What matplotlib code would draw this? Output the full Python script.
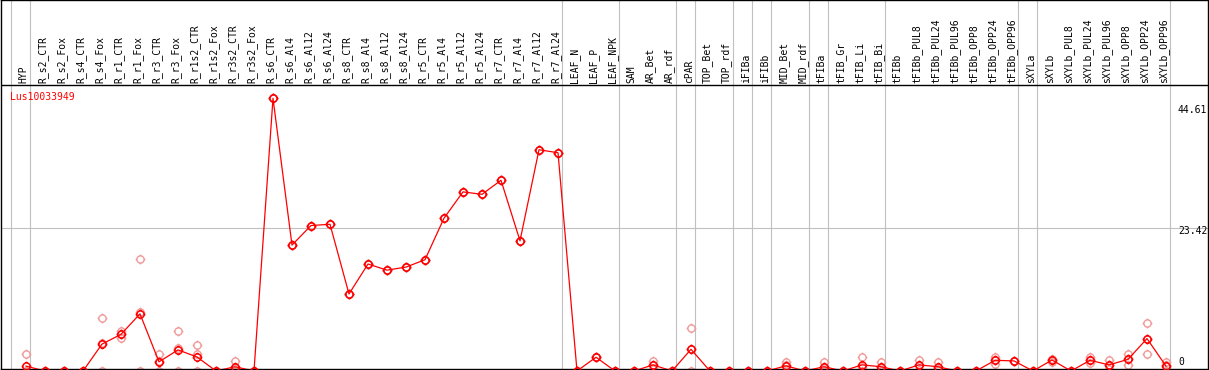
import matplotlib
matplotlib.use("Agg")
import matplotlib.pyplot as plt
from matplotlib.path import Path
from matplotlib.transforms import blended_transform_factory

# ---------------- data ----------------
categories = [
    "HYP", "R_s2_CTR", "R_s2_Fox", "R_s4_CTR", "R_s4_Fox", "R_r1_CTR", "R_r1_Fox",
    "R_r3_CTR", "R_r3_Fox", "R_r1s2_CTR", "R_r1s2_Fox", "R_r3s2_CTR", "R_r3s2_Fox",
    "R_s6_CTR", "R_s6_Al4", "R_s6_Al12", "R_s6_Al24", "R_s8_CTR", "R_s8_Al4",
    "R_s8_Al12", "R_s8_Al24", "R_r5_CTR", "R_r5_Al4", "R_r5_Al12", "R_r5_Al24",
    "R_r7_CTR", "R_r7_Al4", "R_r7_Al12", "R_r7_Al24", "LEAF_N", "LEAF_P", "LEAF_NPK",
    "SAM", "AR_Bet", "AR_rdf", "cPAR", "TOP_Bet", "TOP_rdf", "iFIBa", "iFIBb",
    "MID_Bet", "MID_rdf", "tFIBa", "tFIB_Gr", "tFIB_Li", "tFIB_Bi", "tFIBb",
    "tFIBb_PUL8", "tFIBb_PUL24", "tFIBb_PUL96", "tFIBb_OPP8", "tFIBb_OPP24",
    "tFIBb_OPP96", "sXYLa", "sXYLb", "sXYLb_PUL8", "sXYLb_PUL24", "sXYLb_PUL96",
    "sXYLb_OPP8", "sXYLb_OPP24", "sXYLb_OPP96",
]

mean_values = [
    0.8, 0, 0, 0, 4.4, 6.0, 9.35, 1.5, 3.45, 2.3, 0, 0.7, 0,
    44.61, 20.6, 23.8, 24.0, 12.6, 17.5, 16.5, 17.0, 18.2, 25.0, 29.3, 28.9,
    31.2, 21.3, 36.2, 35.7, 0, 2.25, 0,
    0, 1.0, 0, 3.55, 0, 0, 0, 0,
    0.85, 0, 0.7, 0, 1.0, 0.7, 0,
    1.0, 0.7, 0, 0, 1.75,
    1.65, 0, 1.8, 0, 1.75, 1.0,
    1.9, 5.3, 0.8,
]

rep1 = [
    2.7, 0, 0, 0, 8.65, 6.6, 18.3, 2.8, 6.55, 4.2, 0, 1.6, 0,
    44.61, 20.6, 23.8, 24.0, 12.6, 17.5, 16.5, 17.0, 18.2, 25.0, 29.3, 28.9,
    31.2, 21.3, 36.2, 35.7, 0, 2.25, 0,
    0, 1.65, 0, 7.05, 0, 0, 0, 0,
    1.55, 0, 1.55, 0, 2.35, 1.55, 0,
    1.8, 1.55, 0, 0, 2.35,
    1.7, 0, 1.95, 0, 2.25, 1.75,
    2.75, 7.9, 1.5,
]
rep2 = [
    0, 0, 0, 0, 4.6, 6.0, 9.7, 1.6, 3.8, 2.7, 0, 0.5, 0,
    44.61, 20.6, 23.8, 24.0, 12.6, 17.5, 16.5, 17.0, 18.2, 25.0, 29.3, 28.9,
    31.2, 21.3, 36.2, 35.7, 0, 2.25, 0,
    0, 0.9, 0, 3.6, 0, 0, 0, 0,
    0.9, 0, 0.6, 0, 0.6, 0.6, 0,
    0.9, 0.5, 0, 0, 1.15,
    1.6, 0, 1.55, 0, 1.25, 0.9,
    1.05, 2.8, 0.9,
]
rep3 = [
    0, 0, 0, 0, 0, 5.4, 0, 0, 0, 0, 0, 0, 0,
    44.61, 20.6, 23.8, 24.0, 12.6, 17.5, 16.5, 17.0, 18.2, 25.0, 29.3, 28.9,
    31.2, 21.3, 36.2, 35.7, 0, 2.25, 0,
    0, 0.3, 0, 0, 0, 0, 0, 0,
    0.2, 0, 0, 0, 0, 0, 0,
    0.2, 0.1, 0, 0, 1.75,
    1.65, 0, 1.8, 0, 1.75, 0.3,
    1.95, 5.2, 0,
]

group_ends = [-1, 0, 28, 31, 34, 35, 37, 38, 39, 41, 42, 45, 52, 53, 60]
tick_values = [44.61, 23.42, 0]
tick_labels = ["44.61", "23.42", "0"]
gene_name = "Lus10033949"

# ---------------- layout ----------------
W, H = 1209, 370
fig = plt.figure(figsize=(W / 100, H / 100), dpi=100)
ax = fig.add_axes([1 / W, 1 / H, 1207 / W, 369 / H])

# pixel mapping helpers (layout)
x0_px, dx_px = 26.0, 19.0
y0_px, slope = 371.0, (371.0 - 98.3) / 44.61
ax.set_xlim((1 - x0_px) / dx_px, (1208 - x0_px) / dx_px)
ax.set_ylim((y0_px - 369) / slope, y0_px / slope)
ax.set_xticks([])
ax.set_yticks([])
for s in ax.spines.values():
    s.set_color("black")
    s.set_linewidth(1.0)

def ypx(p):
    return (y0_px - p) / slope

xs = list(range(len(categories)))

# grid lines
for b in group_ends:
    ax.axvline(b + 0.21, color="#c0c0c0", lw=0.8, zorder=1)
ax.axhline(tick_values[1], color="#c0c0c0", lw=0.8, zorder=1)
ax.axhline(ypx(85), color="black", lw=1.0, zorder=4)

# custom marker: circle with 4 outward ticks
circ = Path.unit_circle()
verts = list(circ.vertices)
codes = list(circ.codes)
for a, b in [((0, 1), (0, 1.35)), ((0, -1), (0, -1.35)),
             ((1, 0), (1.35, 0)), ((-1, 0), (-1.35, 0))]:
    verts += [a, b]
    codes += [Path.MOVETO, Path.LINETO]
mk = Path(verts, codes)

for reps in (rep1, rep2, rep3):
    ax.plot(xs, reps, ls="none", marker=mk, ms=7.0, mfc="none",
            mec="#f09a9a", mew=1.0, zorder=2)
ax.plot(xs, mean_values, color="#ff0000", lw=0.9, marker=mk, ms=7.0,
        mfc="none", mec="#ff0000", mew=1.1, zorder=3)

# category labels
tr = blended_transform_factory(ax.transData, fig.transFigure)
for i, c in enumerate(categories):
    ax.text(i - 0.12, 1 - 83 / H, c, rotation=90, ha="center", va="bottom",
            fontsize=7, family="DejaVu Sans Mono", color="black", transform=tr,
            clip_on=False)

# gene name
fig.text(10 / W, 1 - 97.5 / H, gene_name, ha="left", va="center",
         fontsize=7, family="DejaVu Sans Mono", color="#ff0000")

# y value labels
for py, lab in zip([110, 231, 362], tick_labels):
    fig.text(1178 / W, 1 - py / H, lab, ha="left", va="center",
             fontsize=7, family="DejaVu Sans Mono", color="black")

fig.savefig("out.png", dpi=100)
